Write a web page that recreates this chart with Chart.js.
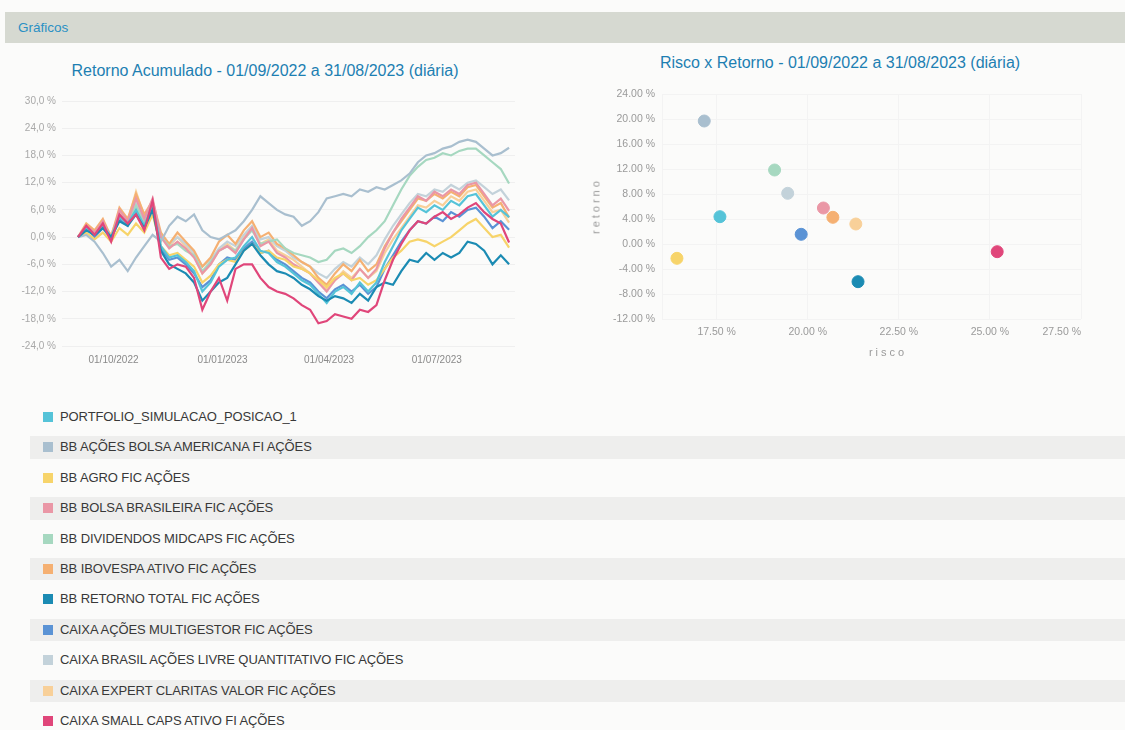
<!DOCTYPE html>
<html lang="pt-BR">
<head>
<meta charset="utf-8">
<title>Gráficos</title>
<script src="https://cdn.jsdelivr.net/npm/chart.js"></script>
<style>
    html, body { margin: 0; padding: 0; }
    body {
        width: 1125px; height: 730px; position: relative; overflow: hidden;
        background: #fbfbfa; font-family: "Liberation Sans", Arial, sans-serif;
    }
    .header { position: absolute; left: 5px; top: 12px; width: 1120px; height: 31px; background: #d6d9d1; }
    .header span { position: absolute; left: 13px; top: 8px; font-size: 13.5px; color: #2a90c4; }
    .chart-title {
        position: absolute; font-size: 16px; line-height: 18px; color: #1d7fb2;
        white-space: nowrap; transform: translateX(-50%);
    }
    #lineChart { position: absolute; left: 0; top: 50px; }
    #scatterChart { position: absolute; left: 560px; top: 40px; }
    .axis-title {
        position: absolute; font-size: 11px; line-height: 13px; color: #9a9a9a;
        letter-spacing: 3px; white-space: nowrap;
    }
    #legend { position: absolute; left: 0; top: 402px; width: 1125px; margin: 0; padding: 0; list-style: none; }
    #legend li {
        position: relative; height: 30.4px; line-height: 30.4px; padding-left: 60px;
        font-size: 13px; letter-spacing: -0.1px; color: #383838; white-space: nowrap;
    }
    #legend li.band::before {
        content: ''; position: absolute; left: 30px; right: 0; top: 4px; bottom: 4px;
        background: rgba(0, 0, 0, 0.05);
    }
    #legend .swatch { position: absolute; left: 43px; top: 10px; width: 10px; height: 10px; }
    #legend .label { position: relative; }
</style>
</head>
<body>
<div class="header"><span>Gráficos</span></div>

<div class="chart-title" style="left:265px; top:62px;">Retorno Acumulado - 01/09/2022 a 31/08/2023 (diária)</div>
<div class="chart-title" style="left:840px; top:54px;">Risco x Retorno - 01/09/2022 a 31/08/2023 (diária)</div>

<canvas id="lineChart" width="540" height="330"></canvas>
<canvas id="scatterChart" width="560" height="340"></canvas>

<div class="axis-title" style="left:596px; top:206px; transform:translate(-50%,-50%) rotate(-90deg);">retorno</div>
<div class="axis-title" style="left:888px; top:352px; transform:translate(-50%,-50%);">risco</div>

<ul id="legend"></ul>

<script>
// Fundos (mesma ordem da legenda)
const fundNames = [
    'PORTFOLIO_SIMULACAO_POSICAO_1',
    'BB AÇÕES BOLSA AMERICANA FI AÇÕES',
    'BB AGRO FIC AÇÕES',
    'BB BOLSA BRASILEIRA FIC AÇÕES',
    'BB DIVIDENDOS MIDCAPS FIC AÇÕES',
    'BB IBOVESPA ATIVO FIC AÇÕES',
    'BB RETORNO TOTAL FIC AÇÕES',
    'CAIXA AÇÕES MULTIGESTOR FIC AÇÕES',
    'CAIXA BRASIL AÇÕES LIVRE QUANTITATIVO FIC AÇÕES',
    'CAIXA EXPERT CLARITAS VALOR FIC AÇÕES',
    'CAIXA SMALL CAPS ATIVO FI AÇÕES'
];

const fundColors = [
    '#55c3d8', '#a9bfcf', '#f7d46a', '#ea97a6', '#a6d8c0', '#f5b072',
    '#1b8bb3', '#5b93d5', '#c3d2da', '#f8d099', '#e0467a'
];

// Dias desde 01/09/2022 (amostra semanal)
const weekDays = [0, 7, 14, 21, 28, 35, 42, 49, 56, 63, 70, 77, 84, 91, 98, 105, 112, 119, 126, 133,
    140, 147, 154, 161, 168, 175, 182, 189, 196, 203, 210, 217, 224, 231, 238, 245, 252, 259, 266, 273,
    280, 287, 294, 301, 308, 315, 322, 329, 336, 343, 350, 357, 364];

// Retorno acumulado (%)
const portfolio = [0, 2, 0.5, 2.5, 0, 4.5, 3, 6, 2.5, 7, -2, -4.5, -4, -5.5, -7.5, -12, -10, -6.5, -5, -4.5,
    -2, 0, -3, -3.5, -5.5, -6.5, -8, -9.5, -10.5, -12.5, -14.5, -12, -11, -12.5, -10, -12, -10, -5.5, -2, 1.5,
    4, 6.5, 5.5, 7, 6, 8, 7, 9, 9.5, 7, 4.5, 6, 4.4];
const bbBolsaAmericana = [0, 0.5, -1, -3.5, -6.5, -5, -7.5, -4.5, -2, 0.5, -1, 2.5, 4.5, 3.5, 5, 1.5, 0, -0.5, 0.5, 1.5,
    3.5, 6, 9, 7.5, 6, 5, 4.5, 2.5, 3.5, 5.5, 8.5, 9, 9.5, 9, 10.5, 10, 11, 10.5, 11.5, 12.5,
    14, 16.5, 18, 18.5, 19.5, 20, 21, 21.5, 21, 19.5, 18, 18.5, 19.7];
const bbAgro = [0, 1, -0.5, 1, -1, 2, 0.5, 3, 1, 5, -2, -4, -3.5, -5, -6.5, -10, -8.5, -6, -5, -5.5,
    -3, -1.5, -3.5, -3, -4.5, -5, -6.5, -7, -8, -9.5, -11, -9, -8, -9.5, -9, -10.5, -9.5, -7, -4.5, -3,
    -1, -0.5, -1, -2, -1, 0, 1.5, 3, 4, 2, 0, 0.5, -2.3];
const bbBolsaBrasileira = [0, 2.5, 1, 3.5, -0.5, 6, 3.5, 8.5, 4, 8.5, 0, -2.5, -1, -2.5, -4.5, -8, -6, -3, -2, -3.5,
    -0.5, 2, -2, -1, -3.5, -4.5, -6, -7, -8, -10, -12, -9.5, -8, -9.5, -7, -9, -7, -2.5, 1, 4,
    6.5, 9, 8, 10, 9, 10.5, 9.5, 11.5, 12, 9.5, 7, 8.5, 5.8];
const bbDividendos = [0, 2, 1, 2.5, 0, 4.5, 3, 7, 3, 7.5, 0, -2, -1.5, -3, -4, -7.5, -5.5, -3, -2, -3,
    -0.5, 1.5, -1.5, -1, -0.5, -2.5, -3.5, -4, -4.5, -5.5, -5, -3, -2.5, -3.5, -2, 0, 1.5, 3.5, 7, 10.5,
    13.5, 15.5, 17, 17.5, 18.5, 18, 19, 19.5, 19.5, 18, 16.5, 15, 11.8];
const bbIbovespa = [0, 3, 1.5, 4, 0, 6.5, 4, 9.5, 5, 8, 1, -1.5, 1, -1, -3, -6.5, -4.5, -1, 0.5, -1.5,
    1.5, 3.5, 0, 1, -1.5, -2.5, -4, -5.5, -6.5, -9, -10.5, -8, -6, -7.5, -5, -7.5, -6, -2, 1, 3.5,
    6, 8.5, 8, 9.5, 8.5, 10, 9, 11, 11.5, 9, 6.5, 7.5, 4.3];
const bbRetornoTotal = [0, 1.5, 0.5, 2, 0, 3.5, 2.5, 5, 2, 6, -3, -6, -7, -8, -10, -14, -12, -10, -9, -6,
    -3, -1.5, -4, -6, -7.5, -8, -9, -10.5, -11.5, -13, -14, -13, -13.5, -14.5, -12.5, -14, -11, -10, -10.5, -7.5,
    -5, -5.5, -3.5, -5, -3.5, -4.5, -3.5, -1, -1.5, -3, -6, -4, -6];
const caixaMultigestor = [0, 2, 0, 2, -0.5, 4, 2.5, 6, 2, 6.5, -2.5, -5, -4.5, -6, -8, -11, -9.5, -6, -4.5, -5,
    -2.5, -1, -3.5, -3, -5, -6, -7.5, -9, -10, -12, -13.5, -11.5, -10.5, -12, -10.5, -12.5, -11, -7, -4, -1,
    1.5, 3.5, 3, 4.5, 3.5, 5.5, 4.5, 6, 6.5, 4.5, 2, 3.5, 1.6];
const caixaBrasilQuant = [0, 2, 0.5, 3, 0, 5, 3, 7.5, 3.5, 7, 0.5, -1.5, 0, -1.5, -3.5, -6.5, -5, -2.5, -1, -2,
    0.5, 2.5, -0.5, 0, -2, -3, -4.5, -5.5, -6.5, -8, -9, -7, -5.5, -6.5, -4.5, -6, -4, -0.5, 2.5, 5,
    7.5, 9.5, 9, 10.5, 10, 11.5, 10.5, 12, 12.5, 11, 9.5, 10.5, 8.1];
const caixaExpert = [0, 2.5, 1, 3, 0.5, 5.5, 3.5, 10, 4.5, 7, 0, -2, 0, -2, -4, -8, -6, -3, -1.5, -3,
    0, 2, -1.5, -0.5, -3, -4, -5, -6.5, -8, -10, -11.5, -9.5, -7.5, -9, -7, -9, -7.5, -3.5, -0.5, 2,
    4.5, 7, 6.5, 8, 7, 9, 8, 10, 10.5, 8, 5.5, 6, 3.2];
const caixaSmallCaps = [0, 2.5, 0.5, 3, -1, 5, 3, 5, 1.5, 8, -4.5, -7, -6, -6.5, -9, -16, -12, -9, -14, -7,
    -6, -6, -9, -11, -12, -12.5, -13.5, -15, -16, -19, -18.5, -17, -17.5, -18, -16, -16.5, -15, -9.5, -5, -1.5,
    1.5, 3.5, 3, 4.5, 5.5, 4, 5, 6.5, 7.5, 5.5, 4, 3, -1.2];

const lineSeries = [portfolio, bbBolsaAmericana, bbAgro, bbBolsaBrasileira, bbDividendos, bbIbovespa,
    bbRetornoTotal, caixaMultigestor, caixaBrasilQuant, caixaExpert, caixaSmallCaps];

// Eixo x do gráfico de linhas
const xTickDays = [30, 122, 212, 303];
const xTickLabels = ['01/10/2022', '01/01/2023', '01/04/2023', '01/07/2023'];

// Risco x Retorno (%)
const riskValues = [17.59, 17.16, 16.41, 20.43, 19.09, 20.69, 21.38, 19.82, 19.45, 21.32, 25.20];
const returnValues = [4.37, 19.68, -2.29, 5.76, 11.84, 4.27, -6.03, 1.55, 8.11, 3.20, -1.23];
const riskTickValues = [16, 17.5, 20, 22.5, 25, 27.5];
const riskTickLabels = ['', '17.50 %', '20.00 %', '22.50 %', '25.00 %', '27.50 %'];

const fontFamily = '"Liberation Sans", Arial, sans-serif';

// Legenda
const legendEl = document.getElementById('legend');
fundNames.forEach((name, i) => {
    const li = document.createElement('li');
    if (i % 2 === 1) li.className = 'band';
    li.innerHTML = '<span class="swatch" style="background:' + fundColors[i] + '"></span>' +
        '<span class="label">' + name + '</span>';
    legendEl.appendChild(li);
});

// Retorno acumulado
new Chart(document.getElementById('lineChart'), {
    type: 'line',
    data: {
        datasets: fundNames.map((name, i) => ({
            label: name,
            data: weekDays.map((d, j) => ({ x: d, y: lineSeries[i][j] })),
            borderColor: fundColors[i],
            backgroundColor: fundColors[i],
            borderWidth: 2.2,
            pointRadius: 0,
            tension: 0,
            // small caps e retorno total por cima
            order: i === 10 ? 0 : (i === 6 ? 1 : i + 2)
        }))
    },
    options: {
        responsive: false,
        animation: false,
        layout: { padding: { top: 51, right: 25, bottom: 0, left: 0 } },
        plugins: { legend: { display: false }, tooltip: { enabled: false } },
        scales: {
            x: {
                type: 'linear',
                min: -13.5,
                max: 369,
                afterBuildTicks: axis => { axis.ticks = xTickDays.map(v => ({ value: v })); },
                afterFit: axis => { axis.height = 34; },
                grid: { display: false, drawTicks: false },
                border: { display: false },
                ticks: {
                    padding: 8,
                    color: '#8a8a8a',
                    font: { size: 10, family: fontFamily },
                    maxRotation: 0,
                    autoSkip: false,
                    callback: (value, index) => xTickLabels[index]
                }
            },
            y: {
                min: -24,
                max: 30,
                afterFit: axis => { axis.width = 62; },
                grid: { color: '#efefef', drawTicks: false },
                border: { display: false },
                ticks: {
                    stepSize: 6,
                    padding: 6,
                    color: '#a8a8a8',
                    font: { size: 10, family: fontFamily },
                    callback: value => value.toFixed(1).replace('.', ',') + ' %'
                }
            }
        }
    }
});

// Risco x Retorno
new Chart(document.getElementById('scatterChart'), {
    type: 'scatter',
    data: {
        datasets: [{
            data: riskValues.map((r, i) => ({ x: r, y: returnValues[i] })),
            backgroundColor: fundColors,
            borderColor: fundColors,
            pointRadius: 6,
            pointHoverRadius: 6
        }]
    },
    options: {
        responsive: false,
        animation: false,
        layout: { padding: { top: 54, right: 39, bottom: 21, left: 29 } },
        plugins: { legend: { display: false }, tooltip: { enabled: false } },
        scales: {
            x: {
                type: 'linear',
                min: 16,
                max: 27.5,
                afterBuildTicks: axis => { axis.ticks = riskTickValues.map(v => ({ value: v })); },
                afterFit: axis => { axis.height = 40; },
                grid: { color: '#f3f3f3', drawTicks: false },
                border: { display: false },
                ticks: {
                    align: 'inner',
                    padding: 7,
                    color: '#9a9a9a',
                    font: { size: 10.5, family: fontFamily },
                    maxRotation: 0,
                    autoSkip: false,
                    callback: (value, index) => riskTickLabels[index]
                }
            },
            y: {
                min: -12,
                max: 24,
                afterFit: axis => { axis.width = 73; },
                grid: { color: '#f3f3f3', drawTicks: false },
                border: { display: false },
                ticks: {
                    stepSize: 4,
                    padding: 7,
                    color: '#9a9a9a',
                    font: { size: 10.5, family: fontFamily },
                    callback: value => value.toFixed(2) + ' %'
                }
            }
        }
    }
});
</script>
</body>
</html>
